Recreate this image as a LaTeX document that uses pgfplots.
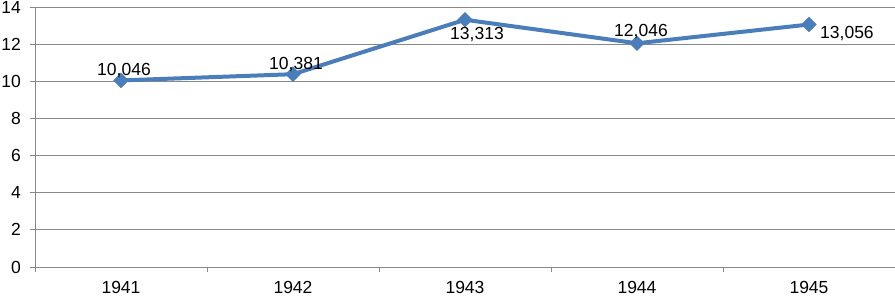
\documentclass[border=0pt]{standalone}
\usepackage{pgfplots}
\pgfplotsset{compat=1.18}
\usepackage{fontspec}
\setmainfont{Liberation Sans}
\definecolor{linec}{HTML}{4A7EBB}
\definecolor{gridc}{HTML}{888888}
\begin{document}
\fontsize{17.5}{20}\selectfont
\begin{tikzpicture}
\begin{axis}[
  scale only axis, width=860pt, height=260pt,
  xmin=-0.5, xmax=4.5, ymin=0, ymax=14,
  axis lines=left, axis line style={-, gridc, line width=0.8pt},
  xtick={0,1,2,3,4}, xticklabels={1941,1942,1943,1944,1945},
  minor xtick={-0.5,0.5,1.5,2.5,3.5,4.5},
  major x tick style={draw=none},
  minor x tick style={gridc, line width=0.8pt},
  ytick={0,2,...,14},
  y tick style={gridc, line width=0.8pt},
  tick align=outside, major tick length=5pt, minor tick length=5pt,
  ymajorgrids, grid style={gridc, line width=0.8pt},
  /pgf/number format/assume math mode=true,
  ticklabel style={font=\fontsize{17.5}{20}\selectfont},
  xticklabel style={yshift=-3pt},
  yticklabel style={xshift=-3pt},
  clip=false,
  lab/.style={draw=none, mark=none, point meta=explicit symbolic, nodes near coords,
     every node near coord/.append style={font=\fontsize{17.5}{20}\selectfont, text=black, inner sep=1pt, #1}},
]
\addplot[linec, line width=4pt, mark=square*, mark size=5.2pt,
  mark options={fill=linec, draw=linec, line width=0.5pt, rotate=45}]
  coordinates {(0,10.046) (1,10.381) (2,13.313) (3,12.046) (4,13.056)};
\addplot[lab={anchor=south, xshift=3pt, yshift=1pt}] coordinates {(0,10.046) [10,046] (1,10.381) [10,381]};
\addplot[lab={anchor=south, xshift=4pt, yshift=3pt}] coordinates {(3,12.046) [12,046]};
\addplot[lab={anchor=north, xshift=12pt, yshift=-6pt}] coordinates {(2,13.313) [13,313]};
\addplot[lab={anchor=north west, xshift=10pt, yshift=-1pt}] coordinates {(4,13.056) [13,056]};
\end{axis}
\pgfresetboundingbox
\path (-35pt,-29pt) rectangle (860pt,267pt);
\end{tikzpicture}
\end{document}
